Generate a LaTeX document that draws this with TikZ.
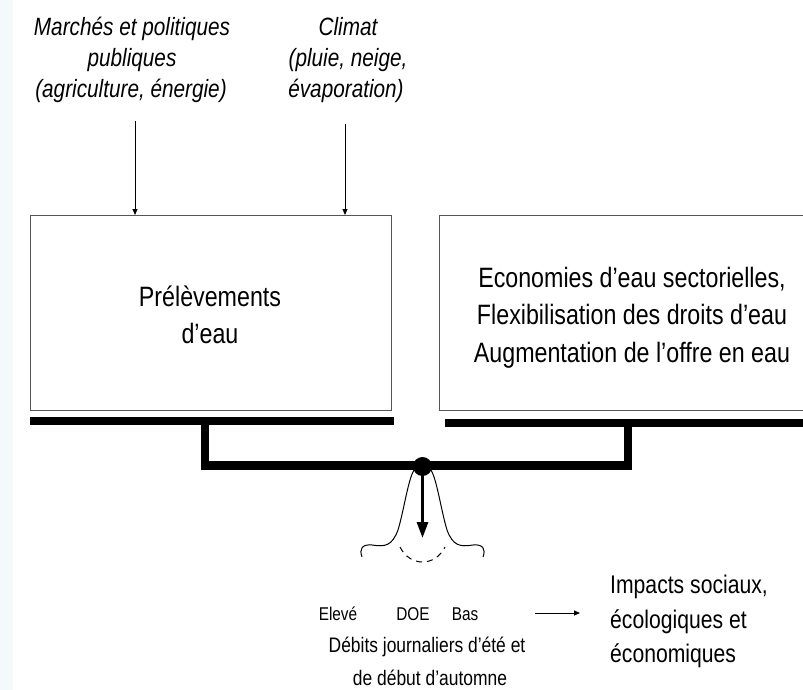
\documentclass[tikz,border=0pt]{standalone}
\usepackage{fontspec}
\setmainfont{Liberation Sans}[FakeStretch=0.83]
\usetikzlibrary{arrows.meta}
\definecolor{stripc}{HTML}{F4F9FB}
\definecolor{boxline}{HTML}{555555}
\begin{document}
\begin{tikzpicture}[x=1pt,y=-1pt,
  toptxt/.style={anchor=base,inner sep=0,font=\fontsize{25}{30}\selectfont\itshape},
  boxtxt/.style={anchor=base,inner sep=0,font=\fontsize{28}{34}\selectfont},
  lvltxt/.style={anchor=base,inner sep=0,font=\fontsize{18.5}{22}\selectfont},
  debtxt/.style={anchor=base,inner sep=0,font=\fontsize{21}{25}\selectfont},
  imptxt/.style={anchor=base west,inner sep=0,font=\fontsize{25.5}{30}\selectfont},
  panel/.style={draw=boxline,line width=1.2pt,inner sep=0,anchor=north west},
  thinarrow/.style={line width=0.9pt,-{Triangle[length=6pt,width=5pt]}},
  beam/.style={line width=8.5pt,line join=miter},
]
\clip (0,0) rectangle (803,690);
\fill[white] (0,0) rectangle (803,690);
\fill[stripc] (0,0) rectangle (13,690);

% top texts
\node[toptxt] (mpA) at (132,36) {Marchés et politiques};
\node[toptxt] (mpB) at (132,67) {publiques};
\node[toptxt] (mpC) at (131,97.5) {(agriculture, énergie)};
\node[toptxt] (clA) at (348,36) {Climat};
\node[toptxt] (clB) at (348,67) {(pluie, neige,};
\node[toptxt] (clC) at (346,97.5) {évaporation)};

% boxes
\node[panel,minimum width=361pt,minimum height=195pt] (prel) at (30,215) {};
\node[panel,minimum width=386pt,minimum height=195pt] (eco) at (439,215) {};

\node[boxtxt] (prelA) at (210,306.7) {Prélèvements};
\node[boxtxt] (prelB) at (210,343) {d’eau};
\node[boxtxt] (ecoA) at (632,287) {Economies d’eau sectorielles,};
\node[boxtxt] (ecoB) at (632,324.5) {Flexibilisation des droits d’eau};
\node[boxtxt] (ecoC) at (632,362) {Augmentation de l’offre en eau};

% top arrows
\coordinate (s1) at (135,121);
\coordinate (s2) at (345,124);
\draw[thinarrow] (s1) -- (s1 |- prel.north);
\draw[thinarrow] (s2) -- (s2 |- prel.north);

% balance
\draw[line width=8.3pt] (30,421) -- (394,421);
\draw[line width=8pt] (445,423.3) -- (810,423.3);
\draw[beam] (205,421) -- (205,465.5) -- (628,465.5) -- (628,423.3);
\node[circle,fill=black,inner sep=0,minimum size=19pt] (piv) at (422.5,466.5) {};
\coordinate (tip) at (422.5,538);
\draw[line width=3pt,-{Triangle[length=16pt,width=11pt]}] (piv.center) -- (tip);

% bell curve
\draw[line width=1pt]
  (362,557) .. controls (359,549) and (362,544) .. (372,545)
  .. controls (385,547) and (392,546) .. (398,530)
  .. controls (404,510) and (408,480) .. (414,470);
\draw[line width=1pt]
  (431,470) .. controls (437,480) and (441,510) .. (447,530)
  .. controls (453,546) and (460,547) .. (473,545)
  .. controls (483,544) and (486,549) .. (483,557);
\draw[line width=1pt,dash pattern=on 6pt off 5pt]
  (400,547) .. controls (410,567) and (435,567) .. (445,547);

% labels
\node[lvltxt] (elev) at (338,620) {Elevé};
\node[lvltxt] (doe) at (413,620) {DOE};
\node[lvltxt] (bas) at (465,620) {Bas};
\node[debtxt] (debA) at (427,652) {Débits journaliers d’été et};
\node[debtxt] (debB) at (430,685) {de début d’automne};

\coordinate (r1) at (535,613);
\coordinate (r2) at (580,613);
\draw[thinarrow] (r1) -- (r2);

\node[imptxt] (impA) at (610,593) {Impacts sociaux,};
\node[imptxt] (impB) at (610,628) {écologiques et};
\node[imptxt] (impC) at (610,662) {économiques};
\end{tikzpicture}
\end{document}
